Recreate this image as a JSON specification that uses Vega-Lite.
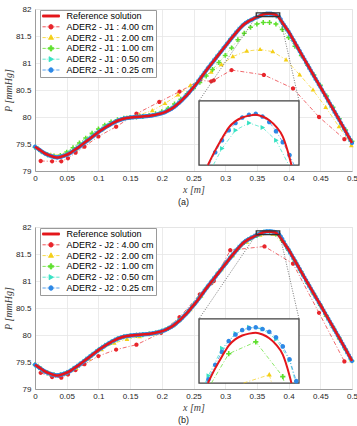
{
  "$schema": "https://vega.github.io/schema/vega-lite/v6.json",
  "padding": {"left": 2, "top": 4, "right": 0, "bottom": 0},
  "background": "white",
  "spacing": 14,
  "config": {
    "font": "Liberation Sans",
    "view": {"stroke": "#e2e2e2", "strokeWidth": 1},
    "axis": {
      "grid": true, "gridColor": "#e6e6e6", "gridWidth": 0.8,
      "domainColor": "#8a8a8a", "domainWidth": 0.8, "ticks": false,
      "labelFont": "Liberation Sans", "labelFontSize": 8, "labelColor": "#262626",
      "titleFont": "Liberation Serif", "titleFontStyle": "italic", "titleFontWeight": "normal",
      "titleFontSize": 10, "titleColor": "#404040"
    },
    "axisX": {"labelPadding": 3, "titlePadding": 2, "labelFlush": false},
    "axisY": {"labelPadding": 4, "titlePadding": 2},
    "legend": {
      "orient": "none", "legendX": 5, "legendY": 1, "direction": "vertical",
      "padding": 1.5, "rowPadding": 0.8, "fillColor": "white", "strokeColor": "#9a9a9a",
      "labelFont": "Liberation Sans", "labelFontSize": 9, "labelColor": "#000000", "labelOffset": 11, "labelLimit": 200,
      "symbolSize": 49, "symbolOffset": 5, "symbolStrokeWidth": 0.8, "symbolOpacity": 1
    }
  },
  "resolve": {"legend": {"color": "independent", "shape": "independent", "stroke": "independent"}},
  "datasets": {
    "links": [
      {"x": 0.349, "p": 81.86, "x2": 0.2587, "p2": 80.30},
      {"x": 0.386, "p": 81.86, "x2": 0.4164, "p2": 80.30}
    ],
    "ref": [
      {"x":0,"p":79.45},{"x":0.005,"p":79.41},{"x":0.01,"p":79.37},{"x":0.015,"p":79.33},{"x":0.02,"p":79.30},{"x":0.025,"p":79.28},{"x":0.03,"p":79.26},{"x":0.035,"p":79.25},{"x":0.04,"p":79.26},{"x":0.045,"p":79.28},
      {"x":0.05,"p":79.30},{"x":0.055,"p":79.33},{"x":0.06,"p":79.37},{"x":0.065,"p":79.41},{"x":0.07,"p":79.45},{"x":0.075,"p":79.495},{"x":0.08,"p":79.54},{"x":0.085,"p":79.585},{"x":0.09,"p":79.63},{"x":0.095,"p":79.675},
      {"x":0.1,"p":79.72},{"x":0.105,"p":79.76},{"x":0.11,"p":79.80},{"x":0.115,"p":79.835},{"x":0.12,"p":79.87},{"x":0.125,"p":79.90},{"x":0.13,"p":79.93},{"x":0.135,"p":79.95},{"x":0.14,"p":79.97},{"x":0.145,"p":79.98},
      {"x":0.15,"p":79.99},{"x":0.155,"p":79.995},{"x":0.16,"p":80.00},{"x":0.165,"p":80.005},{"x":0.17,"p":80.01},{"x":0.175,"p":80.015},{"x":0.18,"p":80.02},{"x":0.185,"p":80.03},{"x":0.19,"p":80.04},{"x":0.195,"p":80.055},
      {"x":0.2,"p":80.07},{"x":0.205,"p":80.09},{"x":0.21,"p":80.12},{"x":0.215,"p":80.15},{"x":0.22,"p":80.19},{"x":0.225,"p":80.24},{"x":0.23,"p":80.29},{"x":0.235,"p":80.35},{"x":0.24,"p":80.41},{"x":0.245,"p":80.48},
      {"x":0.25,"p":80.55},{"x":0.255,"p":80.62},{"x":0.26,"p":80.70},{"x":0.265,"p":80.78},{"x":0.27,"p":80.86},{"x":0.275,"p":80.935},{"x":0.28,"p":81.01},{"x":0.285,"p":81.085},{"x":0.29,"p":81.16},{"x":0.295,"p":81.235},
      {"x":0.3,"p":81.31},{"x":0.305,"p":81.385},{"x":0.31,"p":81.46},{"x":0.315,"p":81.53},{"x":0.32,"p":81.60},{"x":0.325,"p":81.665},{"x":0.33,"p":81.72},{"x":0.335,"p":81.76},{"x":0.34,"p":81.793},{"x":0.345,"p":81.822},
      {"x":0.35,"p":81.849},{"x":0.3525,"p":81.861},{"x":0.355,"p":81.876},{"x":0.3575,"p":81.889},{"x":0.36,"p":81.901},{"x":0.3625,"p":81.908},{"x":0.365,"p":81.912},{"x":0.3675,"p":81.914},{"x":0.37,"p":81.915},
      {"x":0.3725,"p":81.913},{"x":0.375,"p":81.909},{"x":0.3775,"p":81.902},{"x":0.38,"p":81.891},{"x":0.3825,"p":81.868},{"x":0.385,"p":81.835},{"x":0.3875,"p":81.795},{"x":0.39,"p":81.752},{"x":0.395,"p":81.667},
      {"x":0.4,"p":81.58},{"x":0.405,"p":81.478},{"x":0.41,"p":81.375},{"x":0.415,"p":81.273},{"x":0.42,"p":81.17},{"x":0.425,"p":81.068},{"x":0.43,"p":80.965},{"x":0.435,"p":80.863},{"x":0.44,"p":80.76},{"x":0.445,"p":80.66},
      {"x":0.45,"p":80.56},{"x":0.455,"p":80.458},{"x":0.46,"p":80.355},{"x":0.465,"p":80.253},{"x":0.47,"p":80.15},{"x":0.475,"p":80.048},{"x":0.48,"p":79.945},{"x":0.485,"p":79.84},{"x":0.49,"p":79.735},{"x":0.495,"p":79.628},{"x":0.5,"p":79.52}
    ],
    "ser_a": [
      {"s":"4.00","x":0.009,"p":79.185},{"s":"4.00","x":0.027,"p":79.18},{"s":"4.00","x":0.0415,"p":79.18},{"s":"4.00","x":0.052,"p":79.235},{"s":"4.00","x":0.064,"p":79.34},{"s":"4.00","x":0.078,"p":79.45},{"s":"4.00","x":0.1,"p":79.64},{"s":"4.00","x":0.128,"p":79.82},{"s":"4.00","x":0.16,"p":80.06},{"s":"4.00","x":0.196,"p":80.28},
      {"s":"4.00","x":0.228,"p":80.47},{"s":"4.00","x":0.26,"p":80.68},{"s":"4.00","x":0.278,"p":80.66},{"s":"4.00","x":0.282,"p":80.68},{"s":"4.00","x":0.31,"p":80.87},{"s":"4.00","x":0.361,"p":80.78},{"s":"4.00","x":0.407,"p":80.53},{"s":"4.00","x":0.448,"p":80.0},{"s":"4.00","x":0.488,"p":79.59},
      {"s":"2.00","x":0.005,"p":79.42},{"s":"2.00","x":0.025,"p":79.30},{"s":"2.00","x":0.045,"p":79.30},{"s":"2.00","x":0.065,"p":79.41},{"s":"2.00","x":0.085,"p":79.58},{"s":"2.00","x":0.105,"p":79.76},{"s":"2.00","x":0.125,"p":79.90},{"s":"2.00","x":0.145,"p":79.99},{"s":"2.00","x":0.165,"p":80.04},
      {"s":"2.00","x":0.185,"p":80.12},{"s":"2.00","x":0.205,"p":80.25},{"s":"2.00","x":0.2256,"p":80.41},{"s":"2.00","x":0.245,"p":80.58},{"s":"2.00","x":0.262,"p":80.72},{"s":"2.00","x":0.278,"p":80.83},{"s":"2.00","x":0.294,"p":80.97},{"s":"2.00","x":0.312,"p":81.12},{"s":"2.00","x":0.334,"p":81.22},
      {"s":"2.00","x":0.355,"p":81.25},{"s":"2.00","x":0.375,"p":81.21},{"s":"2.00","x":0.396,"p":81.06},{"s":"2.00","x":0.4175,"p":80.78},{"s":"2.00","x":0.4385,"p":80.50},{"s":"2.00","x":0.4585,"p":80.18},{"s":"2.00","x":0.4795,"p":79.82},{"s":"2.00","x":0.499,"p":79.47},
      {"s":"1.00","x":0,"p":79.44},{"s":"1.00","x":0.01,"p":79.36},{"s":"1.00","x":0.02,"p":79.30},{"s":"1.00","x":0.03,"p":79.28},{"s":"1.00","x":0.04,"p":79.29},{"s":"1.00","x":0.05,"p":79.35},{"s":"1.00","x":0.06,"p":79.43},{"s":"1.00","x":0.07,"p":79.52},{"s":"1.00","x":0.08,"p":79.61},{"s":"1.00","x":0.09,"p":79.70},
      {"s":"1.00","x":0.1,"p":79.78},{"s":"1.00","x":0.11,"p":79.85},{"s":"1.00","x":0.12,"p":79.91},{"s":"1.00","x":0.13,"p":79.95},{"s":"1.00","x":0.14,"p":79.98},{"s":"1.00","x":0.15,"p":79.99},{"s":"1.00","x":0.16,"p":80.00},{"s":"1.00","x":0.17,"p":80.01},{"s":"1.00","x":0.18,"p":80.03},{"s":"1.00","x":0.19,"p":80.06},
      {"s":"1.00","x":0.2,"p":80.10},{"s":"1.00","x":0.21,"p":80.16},{"s":"1.00","x":0.22,"p":80.24},{"s":"1.00","x":0.23,"p":80.33},{"s":"1.00","x":0.24,"p":80.43},{"s":"1.00","x":0.25,"p":80.53},{"s":"1.00","x":0.26,"p":80.64},{"s":"1.00","x":0.27,"p":80.76},{"s":"1.00","x":0.28,"p":80.88},{"s":"1.00","x":0.29,"p":81.01},
      {"s":"1.00","x":0.3,"p":81.14},{"s":"1.00","x":0.31,"p":81.28},{"s":"1.00","x":0.32,"p":81.43},{"s":"1.00","x":0.33,"p":81.55},{"s":"1.00","x":0.34,"p":81.66},{"s":"1.00","x":0.35,"p":81.72},{"s":"1.00","x":0.36,"p":81.75},{"s":"1.00","x":0.37,"p":81.75},{"s":"1.00","x":0.38,"p":81.72},{"s":"1.00","x":0.39,"p":81.62},
      {"s":"1.00","x":0.4,"p":81.47},{"s":"1.00","x":0.41,"p":81.31},{"s":"1.00","x":0.42,"p":81.14},{"s":"1.00","x":0.43,"p":80.96},{"s":"1.00","x":0.44,"p":80.78},{"s":"1.00","x":0.45,"p":80.59},{"s":"1.00","x":0.46,"p":80.39},{"s":"1.00","x":0.47,"p":80.18},{"s":"1.00","x":0.48,"p":79.97},{"s":"1.00","x":0.49,"p":79.76},{"s":"1.00","x":0.5,"p":79.55},
      {"s":"0.50","x":0.0025,"p":79.43},{"s":"0.50","x":0.0075,"p":79.39},{"s":"0.50","x":0.0125,"p":79.35},{"s":"0.50","x":0.0175,"p":79.315},{"s":"0.50","x":0.0225,"p":79.29},{"s":"0.50","x":0.0275,"p":79.27},{"s":"0.50","x":0.0325,"p":79.255},{"s":"0.50","x":0.0375,"p":79.255},{"s":"0.50","x":0.0425,"p":79.27},{"s":"0.50","x":0.0475,"p":79.29},
      {"s":"0.50","x":0.0525,"p":79.315},{"s":"0.50","x":0.0575,"p":79.35},{"s":"0.50","x":0.0625,"p":79.39},{"s":"0.50","x":0.0675,"p":79.43},{"s":"0.50","x":0.0725,"p":79.472},{"s":"0.50","x":0.0775,"p":79.517},{"s":"0.50","x":0.0825,"p":79.562},{"s":"0.50","x":0.0875,"p":79.607},{"s":"0.50","x":0.0925,"p":79.652},{"s":"0.50","x":0.0975,"p":79.697},
      {"s":"0.50","x":0.1025,"p":79.74},{"s":"0.50","x":0.1075,"p":79.78},{"s":"0.50","x":0.1125,"p":79.818},{"s":"0.50","x":0.1175,"p":79.853},{"s":"0.50","x":0.1225,"p":79.885},{"s":"0.50","x":0.1275,"p":79.915},{"s":"0.50","x":0.1325,"p":79.94},{"s":"0.50","x":0.1375,"p":79.96},{"s":"0.50","x":0.1425,"p":79.975},{"s":"0.50","x":0.1475,"p":79.985},
      {"s":"0.50","x":0.1525,"p":79.993},{"s":"0.50","x":0.1575,"p":79.998},{"s":"0.50","x":0.1625,"p":80.003},{"s":"0.50","x":0.1675,"p":80.008},{"s":"0.50","x":0.1725,"p":80.013},{"s":"0.50","x":0.1775,"p":80.018},{"s":"0.50","x":0.1825,"p":80.025},{"s":"0.50","x":0.1875,"p":80.035},{"s":"0.50","x":0.1925,"p":80.047},{"s":"0.50","x":0.1975,"p":80.062},
      {"s":"0.50","x":0.2025,"p":80.08},{"s":"0.50","x":0.2075,"p":80.105},{"s":"0.50","x":0.2125,"p":80.135},{"s":"0.50","x":0.2175,"p":80.17},{"s":"0.50","x":0.2225,"p":80.215},{"s":"0.50","x":0.2275,"p":80.265},{"s":"0.50","x":0.2325,"p":80.32},{"s":"0.50","x":0.2375,"p":80.38},{"s":"0.50","x":0.2425,"p":80.445},{"s":"0.50","x":0.2475,"p":80.515},
      {"s":"0.50","x":0.2525,"p":80.585},{"s":"0.50","x":0.2575,"p":80.66},{"s":"0.50","x":0.2625,"p":80.74},{"s":"0.50","x":0.2675,"p":80.82},{"s":"0.50","x":0.2725,"p":80.898},{"s":"0.50","x":0.2775,"p":80.973},{"s":"0.50","x":0.2825,"p":81.048},{"s":"0.50","x":0.2875,"p":81.123},{"s":"0.50","x":0.2925,"p":81.198},{"s":"0.50","x":0.2975,"p":81.273},
      {"s":"0.50","x":0.3025,"p":81.348},{"s":"0.50","x":0.3075,"p":81.423},{"s":"0.50","x":0.3125,"p":81.495},{"s":"0.50","x":0.3175,"p":81.565},{"s":"0.50","x":0.3225,"p":81.633},{"s":"0.50","x":0.3275,"p":81.693},{"s":"0.50","x":0.3325,"p":81.741},{"s":"0.50","x":0.3375,"p":81.777},{"s":"0.50","x":0.3425,"p":81.80},{"s":"0.50","x":0.3475,"p":81.827},
      {"s":"0.50","x":0.3525,"p":81.85},{"s":"0.50","x":0.3575,"p":81.878},{"s":"0.50","x":0.3625,"p":81.898},{"s":"0.50","x":0.3675,"p":81.906},{"s":"0.50","x":0.3725,"p":81.901},{"s":"0.50","x":0.3775,"p":81.887},{"s":"0.50","x":0.3825,"p":81.858},{"s":"0.50","x":0.3875,"p":81.79},{"s":"0.50","x":0.3925,"p":81.70},{"s":"0.50","x":0.3975,"p":81.624},
      {"s":"0.50","x":0.4025,"p":81.529},{"s":"0.50","x":0.4075,"p":81.427},{"s":"0.50","x":0.4125,"p":81.324},{"s":"0.50","x":0.4175,"p":81.222},{"s":"0.50","x":0.4225,"p":81.119},{"s":"0.50","x":0.4275,"p":81.017},{"s":"0.50","x":0.4325,"p":80.914},{"s":"0.50","x":0.4375,"p":80.812},{"s":"0.50","x":0.4425,"p":80.71},{"s":"0.50","x":0.4475,"p":80.61},
      {"s":"0.50","x":0.4525,"p":80.509},{"s":"0.50","x":0.4575,"p":80.407},{"s":"0.50","x":0.4625,"p":80.304},{"s":"0.50","x":0.4675,"p":80.202},{"s":"0.50","x":0.4725,"p":80.099},{"s":"0.50","x":0.4775,"p":79.997},{"s":"0.50","x":0.4825,"p":79.893},{"s":"0.50","x":0.4875,"p":79.788},{"s":"0.50","x":0.4925,"p":79.682},{"s":"0.50","x":0.4975,"p":79.574},
      {"s":"0.25","x":0,"p":79.45},{"s":"0.25","x":0.0025,"p":79.43},{"s":"0.25","x":0.005,"p":79.41},{"s":"0.25","x":0.0075,"p":79.39},{"s":"0.25","x":0.01,"p":79.37},{"s":"0.25","x":0.0125,"p":79.35},{"s":"0.25","x":0.015,"p":79.33},{"s":"0.25","x":0.0175,"p":79.315},{"s":"0.25","x":0.02,"p":79.30},{"s":"0.25","x":0.0225,"p":79.29},
      {"s":"0.25","x":0.025,"p":79.28},{"s":"0.25","x":0.0275,"p":79.27},{"s":"0.25","x":0.03,"p":79.26},{"s":"0.25","x":0.0325,"p":79.255},{"s":"0.25","x":0.035,"p":79.25},{"s":"0.25","x":0.0375,"p":79.255},{"s":"0.25","x":0.04,"p":79.26},{"s":"0.25","x":0.0425,"p":79.27},{"s":"0.25","x":0.045,"p":79.28},{"s":"0.25","x":0.0475,"p":79.29},
      {"s":"0.25","x":0.05,"p":79.30},{"s":"0.25","x":0.0525,"p":79.315},{"s":"0.25","x":0.055,"p":79.33},{"s":"0.25","x":0.0575,"p":79.35},{"s":"0.25","x":0.06,"p":79.37},{"s":"0.25","x":0.0625,"p":79.39},{"s":"0.25","x":0.065,"p":79.41},{"s":"0.25","x":0.0675,"p":79.43},{"s":"0.25","x":0.07,"p":79.45},{"s":"0.25","x":0.0725,"p":79.472},
      {"s":"0.25","x":0.075,"p":79.495},{"s":"0.25","x":0.0775,"p":79.517},{"s":"0.25","x":0.08,"p":79.54},{"s":"0.25","x":0.0825,"p":79.562},{"s":"0.25","x":0.085,"p":79.585},{"s":"0.25","x":0.0875,"p":79.607},{"s":"0.25","x":0.09,"p":79.63},{"s":"0.25","x":0.0925,"p":79.652},{"s":"0.25","x":0.095,"p":79.675},{"s":"0.25","x":0.0975,"p":79.697},
      {"s":"0.25","x":0.1,"p":79.72},{"s":"0.25","x":0.1025,"p":79.74},{"s":"0.25","x":0.105,"p":79.76},{"s":"0.25","x":0.1075,"p":79.78},{"s":"0.25","x":0.11,"p":79.80},{"s":"0.25","x":0.1125,"p":79.818},{"s":"0.25","x":0.115,"p":79.835},{"s":"0.25","x":0.1175,"p":79.853},{"s":"0.25","x":0.12,"p":79.87},{"s":"0.25","x":0.1225,"p":79.885},
      {"s":"0.25","x":0.125,"p":79.90},{"s":"0.25","x":0.1275,"p":79.915},{"s":"0.25","x":0.13,"p":79.93},{"s":"0.25","x":0.1325,"p":79.94},{"s":"0.25","x":0.135,"p":79.95},{"s":"0.25","x":0.1375,"p":79.96},{"s":"0.25","x":0.14,"p":79.97},{"s":"0.25","x":0.1425,"p":79.975},{"s":"0.25","x":0.145,"p":79.98},{"s":"0.25","x":0.1475,"p":79.985},
      {"s":"0.25","x":0.15,"p":79.99},{"s":"0.25","x":0.1525,"p":79.993},{"s":"0.25","x":0.155,"p":79.995},{"s":"0.25","x":0.1575,"p":79.998},{"s":"0.25","x":0.16,"p":80.00},{"s":"0.25","x":0.1625,"p":80.003},{"s":"0.25","x":0.165,"p":80.005},{"s":"0.25","x":0.1675,"p":80.008},{"s":"0.25","x":0.17,"p":80.01},{"s":"0.25","x":0.1725,"p":80.013},
      {"s":"0.25","x":0.175,"p":80.015},{"s":"0.25","x":0.1775,"p":80.018},{"s":"0.25","x":0.18,"p":80.02},{"s":"0.25","x":0.1825,"p":80.025},{"s":"0.25","x":0.185,"p":80.03},{"s":"0.25","x":0.1875,"p":80.035},{"s":"0.25","x":0.19,"p":80.04},{"s":"0.25","x":0.1925,"p":80.047},{"s":"0.25","x":0.195,"p":80.055},{"s":"0.25","x":0.1975,"p":80.062},
      {"s":"0.25","x":0.2,"p":80.07},{"s":"0.25","x":0.2025,"p":80.08},{"s":"0.25","x":0.205,"p":80.09},{"s":"0.25","x":0.2075,"p":80.105},{"s":"0.25","x":0.21,"p":80.12},{"s":"0.25","x":0.2125,"p":80.135},{"s":"0.25","x":0.215,"p":80.15},{"s":"0.25","x":0.2175,"p":80.17},{"s":"0.25","x":0.22,"p":80.19},{"s":"0.25","x":0.2225,"p":80.215},
      {"s":"0.25","x":0.225,"p":80.24},{"s":"0.25","x":0.2275,"p":80.265},{"s":"0.25","x":0.23,"p":80.29},{"s":"0.25","x":0.2325,"p":80.32},{"s":"0.25","x":0.235,"p":80.35},{"s":"0.25","x":0.2375,"p":80.38},{"s":"0.25","x":0.24,"p":80.41},{"s":"0.25","x":0.2425,"p":80.445},{"s":"0.25","x":0.245,"p":80.48},{"s":"0.25","x":0.2475,"p":80.515},
      {"s":"0.25","x":0.25,"p":80.55},{"s":"0.25","x":0.2525,"p":80.585},{"s":"0.25","x":0.255,"p":80.62},{"s":"0.25","x":0.2575,"p":80.66},{"s":"0.25","x":0.26,"p":80.70},{"s":"0.25","x":0.2625,"p":80.74},{"s":"0.25","x":0.265,"p":80.78},{"s":"0.25","x":0.2675,"p":80.82},{"s":"0.25","x":0.27,"p":80.86},{"s":"0.25","x":0.2725,"p":80.898},
      {"s":"0.25","x":0.275,"p":80.935},{"s":"0.25","x":0.2775,"p":80.973},{"s":"0.25","x":0.28,"p":81.01},{"s":"0.25","x":0.2825,"p":81.048},{"s":"0.25","x":0.285,"p":81.085},{"s":"0.25","x":0.2875,"p":81.123},{"s":"0.25","x":0.29,"p":81.16},{"s":"0.25","x":0.2925,"p":81.198},{"s":"0.25","x":0.295,"p":81.235},{"s":"0.25","x":0.2975,"p":81.273},
      {"s":"0.25","x":0.3,"p":81.31},{"s":"0.25","x":0.3025,"p":81.348},{"s":"0.25","x":0.305,"p":81.385},{"s":"0.25","x":0.3075,"p":81.423},{"s":"0.25","x":0.31,"p":81.46},{"s":"0.25","x":0.3125,"p":81.495},{"s":"0.25","x":0.315,"p":81.53},{"s":"0.25","x":0.3175,"p":81.565},{"s":"0.25","x":0.32,"p":81.60},{"s":"0.25","x":0.3225,"p":81.633},
      {"s":"0.25","x":0.325,"p":81.665},{"s":"0.25","x":0.3275,"p":81.693},{"s":"0.25","x":0.33,"p":81.72},{"s":"0.25","x":0.3325,"p":81.741},{"s":"0.25","x":0.335,"p":81.76},{"s":"0.25","x":0.3375,"p":81.777},{"s":"0.25","x":0.34,"p":81.793},{"s":"0.25","x":0.3425,"p":81.808},{"s":"0.25","x":0.345,"p":81.822},{"s":"0.25","x":0.3475,"p":81.836},
      {"s":"0.25","x":0.35,"p":81.849},{"s":"0.25","x":0.3525,"p":81.859},{"s":"0.25","x":0.355,"p":81.874},{"s":"0.25","x":0.3575,"p":81.887},{"s":"0.25","x":0.36,"p":81.898},{"s":"0.25","x":0.3625,"p":81.906},{"s":"0.25","x":0.365,"p":81.912},{"s":"0.25","x":0.3675,"p":81.915},{"s":"0.25","x":0.37,"p":81.916},{"s":"0.25","x":0.3725,"p":81.913},
      {"s":"0.25","x":0.375,"p":81.907},{"s":"0.25","x":0.3775,"p":81.897},{"s":"0.25","x":0.38,"p":81.885},{"s":"0.25","x":0.3825,"p":81.871},{"s":"0.25","x":0.385,"p":81.855},{"s":"0.25","x":0.3875,"p":81.81},{"s":"0.25","x":0.39,"p":81.752},{"s":"0.25","x":0.3925,"p":81.71},{"s":"0.25","x":0.395,"p":81.667},{"s":"0.25","x":0.3975,"p":81.624},
      {"s":"0.25","x":0.4,"p":81.58},{"s":"0.25","x":0.4025,"p":81.529},{"s":"0.25","x":0.405,"p":81.478},{"s":"0.25","x":0.4075,"p":81.427},{"s":"0.25","x":0.41,"p":81.375},{"s":"0.25","x":0.4125,"p":81.324},{"s":"0.25","x":0.415,"p":81.273},{"s":"0.25","x":0.4175,"p":81.222},{"s":"0.25","x":0.42,"p":81.17},{"s":"0.25","x":0.4225,"p":81.119},
      {"s":"0.25","x":0.425,"p":81.068},{"s":"0.25","x":0.4275,"p":81.017},{"s":"0.25","x":0.43,"p":80.965},{"s":"0.25","x":0.4325,"p":80.914},{"s":"0.25","x":0.435,"p":80.863},{"s":"0.25","x":0.4375,"p":80.812},{"s":"0.25","x":0.44,"p":80.76},{"s":"0.25","x":0.4425,"p":80.71},{"s":"0.25","x":0.445,"p":80.66},{"s":"0.25","x":0.4475,"p":80.61},
      {"s":"0.25","x":0.45,"p":80.56},{"s":"0.25","x":0.4525,"p":80.509},{"s":"0.25","x":0.455,"p":80.458},{"s":"0.25","x":0.4575,"p":80.407},{"s":"0.25","x":0.46,"p":80.355},{"s":"0.25","x":0.4625,"p":80.304},{"s":"0.25","x":0.465,"p":80.253},{"s":"0.25","x":0.4675,"p":80.202},{"s":"0.25","x":0.47,"p":80.15},{"s":"0.25","x":0.4725,"p":80.099},
      {"s":"0.25","x":0.475,"p":80.048},{"s":"0.25","x":0.4775,"p":79.997},{"s":"0.25","x":0.48,"p":79.945},{"s":"0.25","x":0.4825,"p":79.893},{"s":"0.25","x":0.485,"p":79.84},{"s":"0.25","x":0.4875,"p":79.788},{"s":"0.25","x":0.49,"p":79.735},{"s":"0.25","x":0.4925,"p":79.682},{"s":"0.25","x":0.495,"p":79.628},{"s":"0.25","x":0.4975,"p":79.574},{"s":"0.25","x":0.5,"p":79.52}
    ],
    "ser_b": [
      {"s":"4.00","x":0.009,"p":79.30},{"s":"4.00","x":0.027,"p":79.22},{"s":"4.00","x":0.0415,"p":79.21},{"s":"4.00","x":0.052,"p":79.27},{"s":"4.00","x":0.064,"p":79.35},{"s":"4.00","x":0.078,"p":79.46},{"s":"4.00","x":0.1,"p":79.61},{"s":"4.00","x":0.128,"p":79.73},{"s":"4.00","x":0.16,"p":79.82},{"s":"4.00","x":0.199,"p":80.04},
      {"s":"4.00","x":0.228,"p":80.33},{"s":"4.00","x":0.26,"p":80.75},{"s":"4.00","x":0.278,"p":80.96},{"s":"4.00","x":0.282,"p":81.00},{"s":"4.00","x":0.308,"p":81.57},{"s":"4.00","x":0.362,"p":81.64},{"s":"4.00","x":0.407,"p":81.32},{"s":"4.00","x":0.448,"p":80.41},{"s":"4.00","x":0.488,"p":79.51},
      {"s":"2.00","x":0.005,"p":79.43},{"s":"2.00","x":0.025,"p":79.28},{"s":"2.00","x":0.045,"p":79.27},{"s":"2.00","x":0.065,"p":79.38},{"s":"2.00","x":0.085,"p":79.56},{"s":"2.00","x":0.105,"p":79.73},{"s":"2.00","x":0.125,"p":79.85},{"s":"2.00","x":0.145,"p":79.92},{"s":"2.00","x":0.165,"p":79.97},
      {"s":"2.00","x":0.185,"p":80.02},{"s":"2.00","x":0.205,"p":80.10},{"s":"2.00","x":0.2256,"p":80.26},{"s":"2.00","x":0.245,"p":80.47},{"s":"2.00","x":0.262,"p":80.72},{"s":"2.00","x":0.278,"p":80.97},{"s":"2.00","x":0.294,"p":81.21},{"s":"2.00","x":0.312,"p":81.47},{"s":"2.00","x":0.334,"p":81.72},
      {"s":"2.00","x":0.355,"p":81.85},{"s":"2.00","x":0.375,"p":81.869},{"s":"2.00","x":0.396,"p":81.66},{"s":"2.00","x":0.4175,"p":81.22},{"s":"2.00","x":0.4385,"p":80.79},{"s":"2.00","x":0.4585,"p":80.37},{"s":"2.00","x":0.4795,"p":79.94},{"s":"2.00","x":0.499,"p":79.55},
      {"s":"1.00","x":0,"p":79.45},{"s":"1.00","x":0.01,"p":79.37},{"s":"1.00","x":0.02,"p":79.30},{"s":"1.00","x":0.03,"p":79.265},{"s":"1.00","x":0.04,"p":79.265},{"s":"1.00","x":0.05,"p":79.30},{"s":"1.00","x":0.06,"p":79.37},{"s":"1.00","x":0.07,"p":79.45},{"s":"1.00","x":0.08,"p":79.54},{"s":"1.00","x":0.09,"p":79.63},
      {"s":"1.00","x":0.1,"p":79.72},{"s":"1.00","x":0.11,"p":79.80},{"s":"1.00","x":0.12,"p":79.865},{"s":"1.00","x":0.13,"p":79.925},{"s":"1.00","x":0.14,"p":79.965},{"s":"1.00","x":0.15,"p":79.985},{"s":"1.00","x":0.16,"p":79.995},{"s":"1.00","x":0.17,"p":80.005},{"s":"1.00","x":0.18,"p":80.02},{"s":"1.00","x":0.19,"p":80.04},
      {"s":"1.00","x":0.2,"p":80.07},{"s":"1.00","x":0.21,"p":80.12},{"s":"1.00","x":0.22,"p":80.19},{"s":"1.00","x":0.23,"p":80.29},{"s":"1.00","x":0.24,"p":80.41},{"s":"1.00","x":0.25,"p":80.55},{"s":"1.00","x":0.26,"p":80.70},{"s":"1.00","x":0.27,"p":80.86},{"s":"1.00","x":0.28,"p":81.01},{"s":"1.00","x":0.29,"p":81.16},
      {"s":"1.00","x":0.3,"p":81.31},{"s":"1.00","x":0.31,"p":81.455},{"s":"1.00","x":0.32,"p":81.59},{"s":"1.00","x":0.33,"p":81.71},{"s":"1.00","x":0.34,"p":81.79},{"s":"1.00","x":0.35,"p":81.842},{"s":"1.00","x":0.36,"p":81.892},{"s":"1.00","x":0.37,"p":81.905},{"s":"1.00","x":0.38,"p":81.867},{"s":"1.00","x":0.39,"p":81.75},
      {"s":"1.00","x":0.4,"p":81.57},{"s":"1.00","x":0.41,"p":81.37},{"s":"1.00","x":0.42,"p":81.165},{"s":"1.00","x":0.43,"p":80.96},{"s":"1.00","x":0.44,"p":80.755},{"s":"1.00","x":0.45,"p":80.55},{"s":"1.00","x":0.46,"p":80.35},{"s":"1.00","x":0.47,"p":80.145},{"s":"1.00","x":0.48,"p":79.94},{"s":"1.00","x":0.49,"p":79.73},{"s":"1.00","x":0.5,"p":79.52},
      {"s":"0.50","x":0.0025,"p":79.43},{"s":"0.50","x":0.0075,"p":79.39},{"s":"0.50","x":0.0125,"p":79.35},{"s":"0.50","x":0.0175,"p":79.315},{"s":"0.50","x":0.0225,"p":79.29},{"s":"0.50","x":0.0275,"p":79.27},{"s":"0.50","x":0.0325,"p":79.255},{"s":"0.50","x":0.0375,"p":79.255},{"s":"0.50","x":0.0425,"p":79.27},{"s":"0.50","x":0.0475,"p":79.29},
      {"s":"0.50","x":0.0525,"p":79.315},{"s":"0.50","x":0.0575,"p":79.35},{"s":"0.50","x":0.0625,"p":79.39},{"s":"0.50","x":0.0675,"p":79.43},{"s":"0.50","x":0.0725,"p":79.472},{"s":"0.50","x":0.0775,"p":79.517},{"s":"0.50","x":0.0825,"p":79.562},{"s":"0.50","x":0.0875,"p":79.607},{"s":"0.50","x":0.0925,"p":79.652},{"s":"0.50","x":0.0975,"p":79.697},
      {"s":"0.50","x":0.1025,"p":79.74},{"s":"0.50","x":0.1075,"p":79.78},{"s":"0.50","x":0.1125,"p":79.818},{"s":"0.50","x":0.1175,"p":79.853},{"s":"0.50","x":0.1225,"p":79.885},{"s":"0.50","x":0.1275,"p":79.915},{"s":"0.50","x":0.1325,"p":79.94},{"s":"0.50","x":0.1375,"p":79.96},{"s":"0.50","x":0.1425,"p":79.975},{"s":"0.50","x":0.1475,"p":79.985},
      {"s":"0.50","x":0.1525,"p":79.993},{"s":"0.50","x":0.1575,"p":79.998},{"s":"0.50","x":0.1625,"p":80.003},{"s":"0.50","x":0.1675,"p":80.008},{"s":"0.50","x":0.1725,"p":80.013},{"s":"0.50","x":0.1775,"p":80.018},{"s":"0.50","x":0.1825,"p":80.025},{"s":"0.50","x":0.1875,"p":80.035},{"s":"0.50","x":0.1925,"p":80.047},{"s":"0.50","x":0.1975,"p":80.062},
      {"s":"0.50","x":0.2025,"p":80.08},{"s":"0.50","x":0.2075,"p":80.105},{"s":"0.50","x":0.2125,"p":80.135},{"s":"0.50","x":0.2175,"p":80.17},{"s":"0.50","x":0.2225,"p":80.215},{"s":"0.50","x":0.2275,"p":80.265},{"s":"0.50","x":0.2325,"p":80.32},{"s":"0.50","x":0.2375,"p":80.38},{"s":"0.50","x":0.2425,"p":80.445},{"s":"0.50","x":0.2475,"p":80.515},
      {"s":"0.50","x":0.2525,"p":80.585},{"s":"0.50","x":0.2575,"p":80.66},{"s":"0.50","x":0.2625,"p":80.74},{"s":"0.50","x":0.2675,"p":80.82},{"s":"0.50","x":0.2725,"p":80.898},{"s":"0.50","x":0.2775,"p":80.973},{"s":"0.50","x":0.2825,"p":81.048},{"s":"0.50","x":0.2875,"p":81.123},{"s":"0.50","x":0.2925,"p":81.198},{"s":"0.50","x":0.2975,"p":81.273},
      {"s":"0.50","x":0.3025,"p":81.348},{"s":"0.50","x":0.3075,"p":81.423},{"s":"0.50","x":0.3125,"p":81.495},{"s":"0.50","x":0.3175,"p":81.565},{"s":"0.50","x":0.3225,"p":81.633},{"s":"0.50","x":0.3275,"p":81.693},{"s":"0.50","x":0.3325,"p":81.741},{"s":"0.50","x":0.3375,"p":81.777},{"s":"0.50","x":0.3425,"p":81.808},{"s":"0.50","x":0.3475,"p":81.835},
      {"s":"0.50","x":0.3525,"p":81.868},{"s":"0.50","x":0.3575,"p":81.898},{"s":"0.50","x":0.3625,"p":81.914},{"s":"0.50","x":0.3675,"p":81.921},{"s":"0.50","x":0.3725,"p":81.919},{"s":"0.50","x":0.3775,"p":81.908},{"s":"0.50","x":0.3825,"p":81.885},{"s":"0.50","x":0.3875,"p":81.83},{"s":"0.50","x":0.3925,"p":81.74},{"s":"0.50","x":0.3975,"p":81.624},
      {"s":"0.50","x":0.4025,"p":81.529},{"s":"0.50","x":0.4075,"p":81.427},{"s":"0.50","x":0.4125,"p":81.324},{"s":"0.50","x":0.4175,"p":81.222},{"s":"0.50","x":0.4225,"p":81.119},{"s":"0.50","x":0.4275,"p":81.017},{"s":"0.50","x":0.4325,"p":80.914},{"s":"0.50","x":0.4375,"p":80.812},{"s":"0.50","x":0.4425,"p":80.71},{"s":"0.50","x":0.4475,"p":80.61},
      {"s":"0.50","x":0.4525,"p":80.509},{"s":"0.50","x":0.4575,"p":80.407},{"s":"0.50","x":0.4625,"p":80.304},{"s":"0.50","x":0.4675,"p":80.202},{"s":"0.50","x":0.4725,"p":80.099},{"s":"0.50","x":0.4775,"p":79.997},{"s":"0.50","x":0.4825,"p":79.893},{"s":"0.50","x":0.4875,"p":79.788},{"s":"0.50","x":0.4925,"p":79.682},{"s":"0.50","x":0.4975,"p":79.574},
      {"s":"0.25","x":0,"p":79.45},{"s":"0.25","x":0.0025,"p":79.43},{"s":"0.25","x":0.005,"p":79.41},{"s":"0.25","x":0.0075,"p":79.39},{"s":"0.25","x":0.01,"p":79.37},{"s":"0.25","x":0.0125,"p":79.35},{"s":"0.25","x":0.015,"p":79.33},{"s":"0.25","x":0.0175,"p":79.315},{"s":"0.25","x":0.02,"p":79.30},{"s":"0.25","x":0.0225,"p":79.29},
      {"s":"0.25","x":0.025,"p":79.28},{"s":"0.25","x":0.0275,"p":79.27},{"s":"0.25","x":0.03,"p":79.26},{"s":"0.25","x":0.0325,"p":79.255},{"s":"0.25","x":0.035,"p":79.25},{"s":"0.25","x":0.0375,"p":79.255},{"s":"0.25","x":0.04,"p":79.26},{"s":"0.25","x":0.0425,"p":79.27},{"s":"0.25","x":0.045,"p":79.28},{"s":"0.25","x":0.0475,"p":79.29},
      {"s":"0.25","x":0.05,"p":79.30},{"s":"0.25","x":0.0525,"p":79.315},{"s":"0.25","x":0.055,"p":79.33},{"s":"0.25","x":0.0575,"p":79.35},{"s":"0.25","x":0.06,"p":79.37},{"s":"0.25","x":0.0625,"p":79.39},{"s":"0.25","x":0.065,"p":79.41},{"s":"0.25","x":0.0675,"p":79.43},{"s":"0.25","x":0.07,"p":79.45},{"s":"0.25","x":0.0725,"p":79.472},
      {"s":"0.25","x":0.075,"p":79.495},{"s":"0.25","x":0.0775,"p":79.517},{"s":"0.25","x":0.08,"p":79.54},{"s":"0.25","x":0.0825,"p":79.562},{"s":"0.25","x":0.085,"p":79.585},{"s":"0.25","x":0.0875,"p":79.607},{"s":"0.25","x":0.09,"p":79.63},{"s":"0.25","x":0.0925,"p":79.652},{"s":"0.25","x":0.095,"p":79.675},{"s":"0.25","x":0.0975,"p":79.697},
      {"s":"0.25","x":0.1,"p":79.72},{"s":"0.25","x":0.1025,"p":79.74},{"s":"0.25","x":0.105,"p":79.76},{"s":"0.25","x":0.1075,"p":79.78},{"s":"0.25","x":0.11,"p":79.80},{"s":"0.25","x":0.1125,"p":79.818},{"s":"0.25","x":0.115,"p":79.835},{"s":"0.25","x":0.1175,"p":79.853},{"s":"0.25","x":0.12,"p":79.87},{"s":"0.25","x":0.1225,"p":79.885},
      {"s":"0.25","x":0.125,"p":79.90},{"s":"0.25","x":0.1275,"p":79.915},{"s":"0.25","x":0.13,"p":79.93},{"s":"0.25","x":0.1325,"p":79.94},{"s":"0.25","x":0.135,"p":79.95},{"s":"0.25","x":0.1375,"p":79.96},{"s":"0.25","x":0.14,"p":79.97},{"s":"0.25","x":0.1425,"p":79.975},{"s":"0.25","x":0.145,"p":79.98},{"s":"0.25","x":0.1475,"p":79.985},
      {"s":"0.25","x":0.15,"p":79.99},{"s":"0.25","x":0.1525,"p":79.993},{"s":"0.25","x":0.155,"p":79.995},{"s":"0.25","x":0.1575,"p":79.998},{"s":"0.25","x":0.16,"p":80.00},{"s":"0.25","x":0.1625,"p":80.003},{"s":"0.25","x":0.165,"p":80.005},{"s":"0.25","x":0.1675,"p":80.008},{"s":"0.25","x":0.17,"p":80.01},{"s":"0.25","x":0.1725,"p":80.013},
      {"s":"0.25","x":0.175,"p":80.015},{"s":"0.25","x":0.1775,"p":80.018},{"s":"0.25","x":0.18,"p":80.02},{"s":"0.25","x":0.1825,"p":80.025},{"s":"0.25","x":0.185,"p":80.03},{"s":"0.25","x":0.1875,"p":80.035},{"s":"0.25","x":0.19,"p":80.04},{"s":"0.25","x":0.1925,"p":80.047},{"s":"0.25","x":0.195,"p":80.055},{"s":"0.25","x":0.1975,"p":80.062},
      {"s":"0.25","x":0.2,"p":80.07},{"s":"0.25","x":0.2025,"p":80.08},{"s":"0.25","x":0.205,"p":80.09},{"s":"0.25","x":0.2075,"p":80.105},{"s":"0.25","x":0.21,"p":80.12},{"s":"0.25","x":0.2125,"p":80.135},{"s":"0.25","x":0.215,"p":80.15},{"s":"0.25","x":0.2175,"p":80.17},{"s":"0.25","x":0.22,"p":80.19},{"s":"0.25","x":0.2225,"p":80.215},
      {"s":"0.25","x":0.225,"p":80.24},{"s":"0.25","x":0.2275,"p":80.265},{"s":"0.25","x":0.23,"p":80.29},{"s":"0.25","x":0.2325,"p":80.32},{"s":"0.25","x":0.235,"p":80.35},{"s":"0.25","x":0.2375,"p":80.38},{"s":"0.25","x":0.24,"p":80.41},{"s":"0.25","x":0.2425,"p":80.445},{"s":"0.25","x":0.245,"p":80.48},{"s":"0.25","x":0.2475,"p":80.515},
      {"s":"0.25","x":0.25,"p":80.55},{"s":"0.25","x":0.2525,"p":80.585},{"s":"0.25","x":0.255,"p":80.62},{"s":"0.25","x":0.2575,"p":80.66},{"s":"0.25","x":0.26,"p":80.70},{"s":"0.25","x":0.2625,"p":80.74},{"s":"0.25","x":0.265,"p":80.78},{"s":"0.25","x":0.2675,"p":80.82},{"s":"0.25","x":0.27,"p":80.86},{"s":"0.25","x":0.2725,"p":80.898},
      {"s":"0.25","x":0.275,"p":80.935},{"s":"0.25","x":0.2775,"p":80.973},{"s":"0.25","x":0.28,"p":81.01},{"s":"0.25","x":0.2825,"p":81.048},{"s":"0.25","x":0.285,"p":81.085},{"s":"0.25","x":0.2875,"p":81.123},{"s":"0.25","x":0.29,"p":81.16},{"s":"0.25","x":0.2925,"p":81.198},{"s":"0.25","x":0.295,"p":81.235},{"s":"0.25","x":0.2975,"p":81.273},
      {"s":"0.25","x":0.3,"p":81.31},{"s":"0.25","x":0.3025,"p":81.348},{"s":"0.25","x":0.305,"p":81.385},{"s":"0.25","x":0.3075,"p":81.423},{"s":"0.25","x":0.31,"p":81.46},{"s":"0.25","x":0.3125,"p":81.495},{"s":"0.25","x":0.315,"p":81.53},{"s":"0.25","x":0.3175,"p":81.565},{"s":"0.25","x":0.32,"p":81.60},{"s":"0.25","x":0.3225,"p":81.633},
      {"s":"0.25","x":0.325,"p":81.665},{"s":"0.25","x":0.3275,"p":81.693},{"s":"0.25","x":0.33,"p":81.72},{"s":"0.25","x":0.3325,"p":81.741},{"s":"0.25","x":0.335,"p":81.76},{"s":"0.25","x":0.3375,"p":81.777},{"s":"0.25","x":0.34,"p":81.793},{"s":"0.25","x":0.3425,"p":81.808},{"s":"0.25","x":0.345,"p":81.822},{"s":"0.25","x":0.3475,"p":81.838},
      {"s":"0.25","x":0.35,"p":81.853},{"s":"0.25","x":0.3525,"p":81.864},{"s":"0.25","x":0.355,"p":81.880},{"s":"0.25","x":0.3575,"p":81.894},{"s":"0.25","x":0.36,"p":81.906},{"s":"0.25","x":0.3625,"p":81.913},{"s":"0.25","x":0.365,"p":81.918},{"s":"0.25","x":0.3675,"p":81.920},{"s":"0.25","x":0.37,"p":81.921},{"s":"0.25","x":0.3725,"p":81.919},
      {"s":"0.25","x":0.375,"p":81.916},{"s":"0.25","x":0.3775,"p":81.910},{"s":"0.25","x":0.38,"p":81.900},{"s":"0.25","x":0.3825,"p":81.886},{"s":"0.25","x":0.385,"p":81.862},{"s":"0.25","x":0.3875,"p":81.826},{"s":"0.25","x":0.39,"p":81.78},{"s":"0.25","x":0.3925,"p":81.72},{"s":"0.25","x":0.395,"p":81.67},{"s":"0.25","x":0.3975,"p":81.624},
      {"s":"0.25","x":0.4,"p":81.58},{"s":"0.25","x":0.4025,"p":81.529},{"s":"0.25","x":0.405,"p":81.478},{"s":"0.25","x":0.4075,"p":81.427},{"s":"0.25","x":0.41,"p":81.375},{"s":"0.25","x":0.4125,"p":81.324},{"s":"0.25","x":0.415,"p":81.273},{"s":"0.25","x":0.4175,"p":81.222},{"s":"0.25","x":0.42,"p":81.17},{"s":"0.25","x":0.4225,"p":81.119},
      {"s":"0.25","x":0.425,"p":81.068},{"s":"0.25","x":0.4275,"p":81.017},{"s":"0.25","x":0.43,"p":80.965},{"s":"0.25","x":0.4325,"p":80.914},{"s":"0.25","x":0.435,"p":80.863},{"s":"0.25","x":0.4375,"p":80.812},{"s":"0.25","x":0.44,"p":80.76},{"s":"0.25","x":0.4425,"p":80.71},{"s":"0.25","x":0.445,"p":80.66},{"s":"0.25","x":0.4475,"p":80.61},
      {"s":"0.25","x":0.45,"p":80.56},{"s":"0.25","x":0.4525,"p":80.509},{"s":"0.25","x":0.455,"p":80.458},{"s":"0.25","x":0.4575,"p":80.407},{"s":"0.25","x":0.46,"p":80.355},{"s":"0.25","x":0.4625,"p":80.304},{"s":"0.25","x":0.465,"p":80.253},{"s":"0.25","x":0.4675,"p":80.202},{"s":"0.25","x":0.47,"p":80.15},{"s":"0.25","x":0.4725,"p":80.099},
      {"s":"0.25","x":0.475,"p":80.048},{"s":"0.25","x":0.4775,"p":79.997},{"s":"0.25","x":0.48,"p":79.945},{"s":"0.25","x":0.4825,"p":79.893},{"s":"0.25","x":0.485,"p":79.84},{"s":"0.25","x":0.4875,"p":79.788},{"s":"0.25","x":0.49,"p":79.735},{"s":"0.25","x":0.4925,"p":79.682},{"s":"0.25","x":0.495,"p":79.628},{"s":"0.25","x":0.4975,"p":79.574},{"s":"0.25","x":0.5,"p":79.52}
    ],
    "inset_a": [
      {"s":"0.50","x":0.3543,"p":81.86,"m":0},{"s":"0.50","x":0.3575,"p":81.878,"m":1},{"s":"0.50","x":0.3625,"p":81.898,"m":1},{"s":"0.50","x":0.3675,"p":81.906,"m":1},{"s":"0.50","x":0.3725,"p":81.901,"m":1},{"s":"0.50","x":0.3775,"p":81.887,"m":1},{"s":"0.50","x":0.3822,"p":81.86,"m":0},
      {"s":"0.25","x":0.3527,"p":81.86,"m":0},{"s":"0.25","x":0.355,"p":81.874,"m":1},{"s":"0.25","x":0.3575,"p":81.887,"m":1},{"s":"0.25","x":0.36,"p":81.898,"m":1},{"s":"0.25","x":0.3625,"p":81.906,"m":1},{"s":"0.25","x":0.365,"p":81.912,"m":1},{"s":"0.25","x":0.3675,"p":81.915,"m":1},
      {"s":"0.25","x":0.37,"p":81.916,"m":1},{"s":"0.25","x":0.3725,"p":81.913,"m":1},{"s":"0.25","x":0.375,"p":81.907,"m":1},{"s":"0.25","x":0.3775,"p":81.897,"m":1},{"s":"0.25","x":0.38,"p":81.885,"m":1},{"s":"0.25","x":0.3825,"p":81.871,"m":1},{"s":"0.25","x":0.3842,"p":81.86,"m":0},
      {"s":"ref","x":0.3523,"p":81.86,"m":0},{"s":"ref","x":0.355,"p":81.876,"m":0},{"s":"ref","x":0.3575,"p":81.889,"m":0},{"s":"ref","x":0.36,"p":81.901,"m":0},{"s":"ref","x":0.3625,"p":81.908,"m":0},{"s":"ref","x":0.365,"p":81.912,"m":0},{"s":"ref","x":0.3675,"p":81.914,"m":0},
      {"s":"ref","x":0.37,"p":81.915,"m":0},{"s":"ref","x":0.3725,"p":81.913,"m":0},{"s":"ref","x":0.375,"p":81.909,"m":0},{"s":"ref","x":0.3775,"p":81.902,"m":0},{"s":"ref","x":0.38,"p":81.891,"m":0},{"s":"ref","x":0.3825,"p":81.868,"m":0},{"s":"ref","x":0.3832,"p":81.86,"m":0}
    ],
    "inset_b": [
      {"s":"2.00","x":0.3655,"p":81.86,"m":0},{"s":"2.00","x":0.375,"p":81.869,"m":1},{"s":"2.00","x":0.3759,"p":81.86,"m":0},
      {"s":"1.00","x":0.3536,"p":81.86,"m":0},{"s":"1.00","x":0.36,"p":81.892,"m":1},{"s":"1.00","x":0.37,"p":81.905,"m":1},{"s":"1.00","x":0.38,"p":81.867,"m":1},{"s":"1.00","x":0.3806,"p":81.86,"m":0},
      {"s":"0.50","x":0.3513,"p":81.86,"m":0},{"s":"0.50","x":0.3525,"p":81.868,"m":1},{"s":"0.50","x":0.3575,"p":81.898,"m":1},{"s":"0.50","x":0.3625,"p":81.914,"m":1},{"s":"0.50","x":0.3675,"p":81.921,"m":1},{"s":"0.50","x":0.3725,"p":81.919,"m":1},{"s":"0.50","x":0.3775,"p":81.908,"m":1},{"s":"0.50","x":0.3825,"p":81.885,"m":1},{"s":"0.50","x":0.3848,"p":81.86,"m":0},
      {"s":"0.25","x":0.3516,"p":81.86,"m":0},{"s":"0.25","x":0.3525,"p":81.864,"m":1},{"s":"0.25","x":0.355,"p":81.880,"m":1},{"s":"0.25","x":0.3575,"p":81.894,"m":1},{"s":"0.25","x":0.36,"p":81.906,"m":1},{"s":"0.25","x":0.3625,"p":81.913,"m":1},{"s":"0.25","x":0.365,"p":81.918,"m":1},{"s":"0.25","x":0.3675,"p":81.920,"m":1},
      {"s":"0.25","x":0.37,"p":81.921,"m":1},{"s":"0.25","x":0.3725,"p":81.919,"m":1},{"s":"0.25","x":0.375,"p":81.916,"m":1},{"s":"0.25","x":0.3775,"p":81.910,"m":1},{"s":"0.25","x":0.38,"p":81.900,"m":1},{"s":"0.25","x":0.3825,"p":81.886,"m":1},{"s":"0.25","x":0.385,"p":81.862,"m":1},{"s":"0.25","x":0.3851,"p":81.86,"m":0},
      {"s":"ref","x":0.3523,"p":81.86,"m":0},{"s":"ref","x":0.355,"p":81.876,"m":0},{"s":"ref","x":0.3575,"p":81.889,"m":0},{"s":"ref","x":0.36,"p":81.901,"m":0},{"s":"ref","x":0.3625,"p":81.908,"m":0},{"s":"ref","x":0.365,"p":81.912,"m":0},{"s":"ref","x":0.3675,"p":81.914,"m":0},
      {"s":"ref","x":0.37,"p":81.915,"m":0},{"s":"ref","x":0.3725,"p":81.913,"m":0},{"s":"ref","x":0.375,"p":81.909,"m":0},{"s":"ref","x":0.3775,"p":81.902,"m":0},{"s":"ref","x":0.38,"p":81.891,"m":0},{"s":"ref","x":0.3825,"p":81.868,"m":0},{"s":"ref","x":0.3832,"p":81.86,"m":0}
    ]
  },
  "vconcat": [
    {
      "width": 317, "height": 162,
      "title": {"text": "(a)", "orient": "bottom", "anchor": "middle", "frame": "group", "fontSize": 9, "fontWeight": "normal", "font": "Liberation Sans", "color": "#222222", "offset": 4, "dx": -10},
      "resolve": {"scale": {"x": "independent", "y": "independent"}},
      "layer": [
        {
          "encoding": {
            "x": {"field": "x", "type": "quantitative", "scale": {"domain": [0, 0.5], "nice": false, "zero": false},
                  "axis": {"values": [0, 0.05, 0.1, 0.15, 0.2, 0.25, 0.3, 0.35, 0.4, 0.45, 0.5], "format": "~g", "title": "x [m]"}},
            "y": {"field": "p", "type": "quantitative", "scale": {"domain": [79, 82], "nice": false, "zero": false},
                  "axis": {"values": [79, 79.5, 80, 80.5, 81, 81.5, 82], "format": "~g", "title": "P [mmHg]"}}
          },
          "layer": [
            {
              "data": {"name": "ser_a"},
              "mark": {"type": "line", "strokeWidth": 0.7, "strokeDash": [4, 2, 1, 2]},
              "encoding": {
                "color": {
                  "field": "s", "type": "nominal",
                  "scale": {"domain": ["ref", "4.00", "2.00", "1.00", "0.50", "0.25"], "range": ["#e3161b", "#e8262c", "#f4cf17", "#5ddf2c", "#36e2c3", "#2d88e6"]},
                  "legend": {"title": null, "labelExpr": "datum.value == 'ref' ? 'Reference solution' : 'ADER2 - J1 : ' + datum.value + ' cm'"}
                }
              }
            },
            {
              "data": {"name": "ser_a"},
              "mark": {"type": "point", "filled": true, "size": 42, "strokeWidth": 0, "opacity": 1},
              "encoding": {
                "color": {"field": "s", "type": "nominal"},
                "shape": {
                  "field": "s", "type": "nominal",
                  "scale": {
                    "domain": ["ref", "4.00", "2.00", "1.00", "0.50", "0.25"],
                    "range": [
                      "M-2.43,-0.3H2.43V0.3H-2.43Z",
                      "M-2.43,0H-1.5M-1.2,0H-1M1,0H1.2M1.5,0H2.43M-0.66,0A0.66,0.66,0,1,0,0.66,0A0.66,0.66,0,1,0,-0.66,0Z",
                      "M-2.43,0H-1.5M-1.2,0H-1M1,0H1.2M1.5,0H2.43M0,-0.8L0.73,0.5L-0.73,0.5Z",
                      "M-2.43,0H-1.5M-1.2,0H-1M1,0H1.2M1.5,0H2.43M-0.23,-0.75H0.23V-0.23H0.75V0.23H0.23V0.75H-0.23V0.23H-0.75V-0.23H-0.23Z",
                      "M-2.43,0H-1.5M-1.2,0H-1M1,0H1.2M1.5,0H2.43M0.75,0L-0.55,0.72L-0.55,-0.72Z",
                      "M-2.43,0H-1.5M-1.2,0H-1M1,0H1.2M1.5,0H2.43M-0.66,0A0.66,0.66,0,1,0,0.66,0A0.66,0.66,0,1,0,-0.66,0Z"
                    ]
                  },
                  "legend": {"title": null, "labelExpr": "datum.value == 'ref' ? 'Reference solution' : 'ADER2 - J1 : ' + datum.value + ' cm'"}
                }
              }
            },
            {
              "data": {"name": "links"},
              "mark": {"type": "point", "filled": true, "size": 49, "strokeWidth": 0.8, "opacity": 0},
              "encoding": {
                "stroke": {
                  "datum": "ref",
                  "scale": {"domain": ["ref", "4.00", "2.00", "1.00", "0.50", "0.25"], "range": ["#e3161b", "#e8262c", "#f4cf17", "#5ddf2c", "#36e2c3", "#2d88e6"]},
                  "legend": {"title": null, "labelExpr": "datum.value == 'ref' ? 'Reference solution' : 'ADER2 - J1 : ' + datum.value + ' cm'"}
                }
              }
            },
            {
              "data": {"name": "ref"},
              "mark": {"type": "line", "strokeWidth": 2.6, "interpolate": "monotone"},
              "encoding": {"color": {"datum": "ref"}}
            },
            {
              "data": {"values": [{"x": 0.349, "x2": 0.386, "p": 81.86, "p2": 81.93}]},
              "mark": {"type": "rect", "fill": null, "stroke": "#333333", "strokeWidth": 1.3},
              "encoding": {"x2": {"field": "x2"}, "y2": {"field": "p2"}}
            },
            {
              "data": {"name": "links"},
              "mark": {"type": "rule", "strokeDash": [1, 1.5], "color": "#555555", "strokeWidth": 0.8},
              "encoding": {"x2": {"field": "x2"}, "y2": {"field": "p2"}}
            },
            {
              "data": {"values": [{"x": 0.2587, "x2": 0.4164, "p": 79.11, "p2": 80.30}]},
              "mark": {"type": "rect", "fill": "white", "stroke": "#404040", "strokeWidth": 1.3},
              "encoding": {"x2": {"field": "x2"}, "y2": {"field": "p2"}}
            }
          ]
        },
        {
          "data": {"name": "inset_a"},
          "encoding": {
            "x": {"field": "x", "type": "quantitative", "scale": {"domain": [0.349, 0.386], "range": [164, 264], "nice": false, "zero": false}, "axis": null},
            "y": {"field": "p", "type": "quantitative", "scale": {"domain": [81.86, 81.93], "range": [156, 92], "nice": false, "zero": false}, "axis": null}
          },
          "layer": [
            {
              "transform": [{"filter": "datum.s != 'ref'"}],
              "mark": {"type": "line", "strokeWidth": 0.7, "strokeDash": [4, 2, 1, 2]},
              "encoding": {"color": {"field": "s", "type": "nominal"}}
            },
            {
              "transform": [{"filter": "datum.m == 1"}],
              "mark": {"type": "point", "filled": true, "size": 49, "strokeWidth": 0, "opacity": 1},
              "encoding": {"color": {"field": "s", "type": "nominal"}, "shape": {"field": "s", "type": "nominal"}}
            },
            {
              "transform": [{"filter": "datum.s == 'ref'"}],
              "mark": {"type": "line", "strokeWidth": 2, "interpolate": "monotone"},
              "encoding": {"color": {"field": "s", "type": "nominal"}}
            }
          ]
        }
      ]
    },
    {
      "width": 317, "height": 162,
      "title": {"text": "(b)", "orient": "bottom", "anchor": "middle", "frame": "group", "fontSize": 9, "fontWeight": "normal", "font": "Liberation Sans", "color": "#222222", "offset": 4, "dx": -10},
      "resolve": {"scale": {"x": "independent", "y": "independent"}},
      "layer": [
        {
          "encoding": {
            "x": {"field": "x", "type": "quantitative", "scale": {"domain": [0, 0.5], "nice": false, "zero": false},
                  "axis": {"values": [0, 0.05, 0.1, 0.15, 0.2, 0.25, 0.3, 0.35, 0.4, 0.45, 0.5], "format": "~g", "title": "x [m]"}},
            "y": {"field": "p", "type": "quantitative", "scale": {"domain": [79, 82], "nice": false, "zero": false},
                  "axis": {"values": [79, 79.5, 80, 80.5, 81, 81.5, 82], "format": "~g", "title": "P [mmHg]"}}
          },
          "layer": [
            {
              "data": {"name": "ser_b"},
              "mark": {"type": "line", "strokeWidth": 0.7, "strokeDash": [4, 2, 1, 2]},
              "encoding": {
                "color": {
                  "field": "s", "type": "nominal",
                  "scale": {"domain": ["ref", "4.00", "2.00", "1.00", "0.50", "0.25"], "range": ["#e3161b", "#e8262c", "#f4cf17", "#5ddf2c", "#36e2c3", "#2d88e6"]},
                  "legend": {"title": null, "labelExpr": "datum.value == 'ref' ? 'Reference solution' : 'ADER2 - J2 : ' + datum.value + ' cm'"}
                }
              }
            },
            {
              "data": {"name": "ser_b"},
              "mark": {"type": "point", "filled": true, "size": 42, "strokeWidth": 0, "opacity": 1},
              "encoding": {
                "color": {"field": "s", "type": "nominal"},
                "shape": {
                  "field": "s", "type": "nominal",
                  "scale": {
                    "domain": ["ref", "4.00", "2.00", "1.00", "0.50", "0.25"],
                    "range": [
                      "M-2.43,-0.3H2.43V0.3H-2.43Z",
                      "M-2.43,0H-1.5M-1.2,0H-1M1,0H1.2M1.5,0H2.43M-0.66,0A0.66,0.66,0,1,0,0.66,0A0.66,0.66,0,1,0,-0.66,0Z",
                      "M-2.43,0H-1.5M-1.2,0H-1M1,0H1.2M1.5,0H2.43M0,-0.8L0.73,0.5L-0.73,0.5Z",
                      "M-2.43,0H-1.5M-1.2,0H-1M1,0H1.2M1.5,0H2.43M-0.23,-0.75H0.23V-0.23H0.75V0.23H0.23V0.75H-0.23V0.23H-0.75V-0.23H-0.23Z",
                      "M-2.43,0H-1.5M-1.2,0H-1M1,0H1.2M1.5,0H2.43M0.75,0L-0.55,0.72L-0.55,-0.72Z",
                      "M-2.43,0H-1.5M-1.2,0H-1M1,0H1.2M1.5,0H2.43M-0.66,0A0.66,0.66,0,1,0,0.66,0A0.66,0.66,0,1,0,-0.66,0Z"
                    ]
                  },
                  "legend": {"title": null, "labelExpr": "datum.value == 'ref' ? 'Reference solution' : 'ADER2 - J2 : ' + datum.value + ' cm'"}
                }
              }
            },
            {
              "data": {"name": "links"},
              "mark": {"type": "point", "filled": true, "size": 49, "strokeWidth": 0.8, "opacity": 0},
              "encoding": {
                "stroke": {
                  "datum": "ref",
                  "scale": {"domain": ["ref", "4.00", "2.00", "1.00", "0.50", "0.25"], "range": ["#e3161b", "#e8262c", "#f4cf17", "#5ddf2c", "#36e2c3", "#2d88e6"]},
                  "legend": {"title": null, "labelExpr": "datum.value == 'ref' ? 'Reference solution' : 'ADER2 - J2 : ' + datum.value + ' cm'"}
                }
              }
            },
            {
              "data": {"name": "ref"},
              "mark": {"type": "line", "strokeWidth": 2.6, "interpolate": "monotone"},
              "encoding": {"color": {"datum": "ref"}}
            },
            {
              "data": {"values": [{"x": 0.349, "x2": 0.386, "p": 81.86, "p2": 81.93}]},
              "mark": {"type": "rect", "fill": null, "stroke": "#333333", "strokeWidth": 1.3},
              "encoding": {"x2": {"field": "x2"}, "y2": {"field": "p2"}}
            },
            {
              "data": {"name": "links"},
              "mark": {"type": "rule", "strokeDash": [1, 1.5], "color": "#555555", "strokeWidth": 0.8},
              "encoding": {"x2": {"field": "x2"}, "y2": {"field": "p2"}}
            },
            {
              "data": {"values": [{"x": 0.2587, "x2": 0.4164, "p": 79.11, "p2": 80.30}]},
              "mark": {"type": "rect", "fill": "white", "stroke": "#404040", "strokeWidth": 1.3},
              "encoding": {"x2": {"field": "x2"}, "y2": {"field": "p2"}}
            }
          ]
        },
        {
          "data": {"name": "inset_b"},
          "encoding": {
            "x": {"field": "x", "type": "quantitative", "scale": {"domain": [0.349, 0.386], "range": [164, 264], "nice": false, "zero": false}, "axis": null},
            "y": {"field": "p", "type": "quantitative", "scale": {"domain": [81.86, 81.93], "range": [156, 92], "nice": false, "zero": false}, "axis": null}
          },
          "layer": [
            {
              "transform": [{"filter": "datum.s != 'ref'"}],
              "mark": {"type": "line", "strokeWidth": 0.7, "strokeDash": [4, 2, 1, 2]},
              "encoding": {"color": {"field": "s", "type": "nominal"}}
            },
            {
              "transform": [{"filter": "datum.m == 1"}],
              "mark": {"type": "point", "filled": true, "size": 49, "strokeWidth": 0, "opacity": 1},
              "encoding": {"color": {"field": "s", "type": "nominal"}, "shape": {"field": "s", "type": "nominal"}}
            },
            {
              "transform": [{"filter": "datum.s == 'ref'"}],
              "mark": {"type": "line", "strokeWidth": 2, "interpolate": "monotone"},
              "encoding": {"color": {"field": "s", "type": "nominal"}}
            }
          ]
        }
      ]
    }
  ]
}
